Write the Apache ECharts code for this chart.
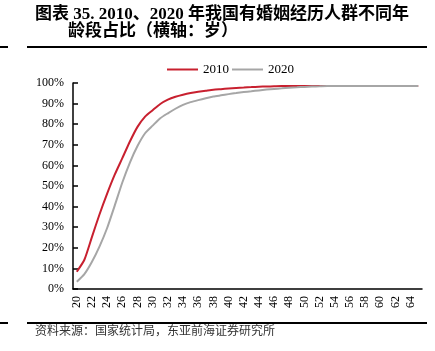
<!DOCTYPE html>
<html>
<head>
<meta charset="utf-8">
<script src="https://cdn.jsdelivr.net/npm/echarts@6/dist/echarts.min.js"></script>
<style>
  html, body { margin: 0; padding: 0; background: #fff; }
  #chart { width: 435px; height: 351px; }
</style>
</head>
<body>
<div id="chart"></div>
<script>
// 年龄 20-65 岁
var ages = [];
for (var a = 20; a <= 65; a++) ages.push(String(a));

// 有婚姻经历人群占比（%）
var rate2010 = [8.4, 14.2, 25.3, 36.3, 46.3, 55.5, 63.5, 71.6, 78.7, 83.7,
  86.8, 89.8, 91.9, 93.3, 94.3, 95.1, 95.7, 96.2, 96.7, 97.0,
  97.3, 97.6, 97.8, 98.0, 98.2, 98.3, 98.4, 98.5, 98.5, 98.5,
  98.6, 98.6, 98.6, 98.6, 98.6, 98.6, 98.6, 98.6, 98.6, 98.6,
  98.6, 98.5, 98.5, 98.5, 98.5, 98.5];
var rate2020 = [3.5, 7.2, 13.2, 20.7, 29.6, 40.5, 51.7, 61.4, 69.4, 75.6,
  79.3, 82.9, 85.3, 87.5, 89.4, 90.7, 91.7, 92.6, 93.4, 94.0,
  94.6, 95.1, 95.6, 96.0, 96.4, 96.8, 97.1, 97.4, 97.7, 97.9,
  98.1, 98.3, 98.4, 98.5, 98.5, 98.5, 98.6, 98.6, 98.6, 98.6,
  98.6, 98.5, 98.5, 98.5, 98.5, 98.5];

var serif = '"Liberation Serif", "Noto Sans CJK SC", serif';

var chart = echarts.init(document.getElementById("chart"));
chart.setOption({
  backgroundColor: "#fff",
  animation: false,
  graphic: [
    {
      type: "text", left: 35, top: 6,
      style: { text: "图表 35. 2010、2020 年我国有婚姻经历人群不同年", font: "bold 17px " + serif, fill: "#000" }
    },
    {
      type: "text", left: 68, top: 23,
      style: { text: "龄段占比（横轴：岁）", font: "bold 17px " + serif, fill: "#000" }
    },
    { type: "line", shape: { x1: 0, y1: 47, x2: 8, y2: 47 }, style: { stroke: "#000", lineWidth: 2 } },
    { type: "line", shape: { x1: 27, y1: 47, x2: 427, y2: 47 }, style: { stroke: "#000", lineWidth: 2 } },
    { type: "line", shape: { x1: 0, y1: 323, x2: 8, y2: 323 }, style: { stroke: "#000", lineWidth: 2 } },
    { type: "line", shape: { x1: 27, y1: 323, x2: 427, y2: 323 }, style: { stroke: "#000", lineWidth: 2 } },
    {
      type: "text", left: 35, top: 326,
      style: { text: "资料来源：国家统计局，东亚前海证券研究所", font: "12px " + serif, fill: "#333" }
    }
  ],
  legend: {
    top: 58,
    left: 162,
    icon: "rect",
    itemWidth: 31,
    itemHeight: 2,
    itemGap: 3,
    textStyle: { fontFamily: serif, fontSize: 13, color: "#000" },
    data: ["2010", "2020"]
  },
  grid: { left: 73, right: 13, top: 83, bottom: 62 },
  xAxis: {
    type: "category",
    data: ages,
    boundaryGap: true,
    axisLine: { lineStyle: { color: "#000", width: 1.5 } },
    axisTick: { show: false },
    axisLabel: {
      interval: 1,
      rotate: 90,
      margin: 7,
      fontFamily: serif,
      fontSize: 12,
      color: "#000"
    }
  },
  yAxis: {
    type: "value",
    min: 0,
    max: 100,
    interval: 10,
    splitLine: { show: false },
    axisLine: { show: true, lineStyle: { color: "#000", width: 1.5 } },
    axisTick: { show: true, inside: true, length: 5, lineStyle: { color: "#000", width: 1.5 } },
    axisLabel: {
      formatter: "{value}%",
      margin: 9,
      fontFamily: serif,
      fontSize: 12,
      color: "#000"
    }
  },
  series: [
    {
      name: "2010",
      type: "line",
      data: rate2010,
      smooth: 0.2,
      showSymbol: false,
      color: "#C8202F",
      lineStyle: { width: 2, color: "#C8202F" }
    },
    {
      name: "2020",
      type: "line",
      data: rate2020,
      smooth: 0.2,
      showSymbol: false,
      color: "#A6A6A6",
      lineStyle: { width: 2, color: "#A6A6A6" }
    }
  ]
});
</script>
</body>
</html>
